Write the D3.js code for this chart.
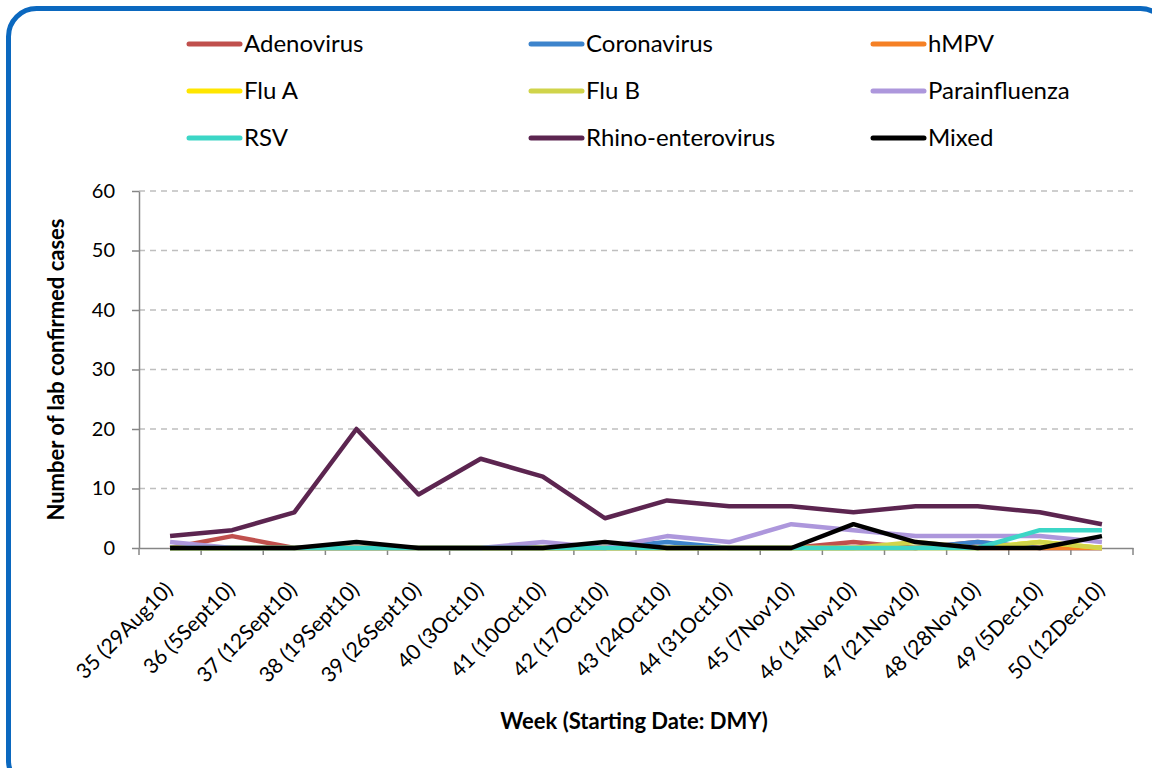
<!DOCTYPE html>
<html lang="en">
<head>
  <meta charset="UTF-8">
  <style>
    body { margin: 0; background: #fff; }
    text { font-family: Lato, "Open Sans", sans-serif; fill: #000; }
    .grid line { stroke: #bfbfbf; stroke-dasharray: 6,5; stroke-width: 1.3; }
    .axis path, .axis line { stroke: #868686; stroke-width: 1.5; }
    .series { fill: none; stroke-width: 4.5; stroke-linejoin: round; }
  </style>
  <title>Lab confirmed cases</title>
  <script src="https://d3js.org/d3.v7.min.js"></script>
</head>
<body>
<svg id="chart"></svg>
<script>

const weeks = ['35 (29Aug10)', '36 (5Sept10)', '37 (12Sept10)', '38 (19Sept10)', '39 (26Sept10)',
  '40 (3Oct10)', '41 (10Oct10)', '42 (17Oct10)', '43 (24Oct10)', '44 (31Oct10)', '45 (7Nov10)',
  '46 (14Nov10)', '47 (21Nov10)', '48 (28Nov10)', '49 (5Dec10)', '50 (12Dec10)'];

const adenovirus    = [0, 2, 0, 0, 0, 0, 0, 0, 0, 0, 0, 1, 0, 1, 0, 0];
const coronavirus   = [0, 0, 0, 0, 0, 0, 0, 0, 1, 0, 0, 0, 0, 1, 0, 0];
const hmpv          = [0, 0, 0, 0, 0, 0, 0, 0, 0, 0, 0, 0, 0, 0, 0, 0];
const fluA          = [0, 0, 0, 0, 0, 0, 0, 0, 0, 0, 0, 0, 0, 0, 1, 0];
const fluB          = [0, 0, 0, 0, 0, 0, 0, 0, 0, 0, 0, 0, 1, 0, 1, 0];
const parainfluenza = [1, 0, 0, 0, 0, 0, 1, 0, 2, 1, 4, 3, 2, 2, 2, 1];
const rsv           = [0, 0, 0, 0, 0, 0, 0, 0, 0, 0, 0, 0, 0, 0, 3, 3];
const rhino         = [2, 3, 6, 20, 9, 15, 12, 5, 8, 7, 7, 6, 7, 7, 6, 4];
const mixed         = [0, 0, 0, 1, 0, 0, 0, 1, 0, 0, 0, 4, 1, 0, 0, 2];

const yTicks = [0, 10, 20, 30, 40, 50, 60];

const series = [
  {name: 'Adenovirus', values: adenovirus, color: '#c0504d'},
  {name: 'Coronavirus', values: coronavirus, color: '#3d84cc'},
  {name: 'hMPV', values: hmpv, color: '#f58025'},
  {name: 'Flu A', values: fluA, color: '#ffe600'},
  {name: 'Flu B', values: fluB, color: '#d0d44a'},
  {name: 'Parainfluenza', values: parainfluenza, color: '#ad97dc'},
  {name: 'RSV', values: rsv, color: '#3cd6c6'},
  {name: 'Rhino-enterovirus', values: rhino, color: '#5c2550'},
  {name: 'Mixed', values: mixed, color: '#000000'}
];

const size = {width: 1152, height: 768};
const svg = d3.select('#chart')
  .attr('width', size.width)
  .attr('height', size.height);

// blue rounded frame
svg.append('rect')
  .attr('x', 8.5).attr('y', 8.5)
  .attr('width', 1160).attr('height', 780)
  .attr('rx', 28)
  .attr('fill', 'none')
  .attr('stroke', '#0b68bf')
  .attr('stroke-width', 5);

const plot = {left: 139, right: 1133, top: 191, bottom: 548};

const xScale = d3.scaleBand()
  .domain(weeks)
  .range([plot.left, plot.right]);
const yScale = d3.scaleLinear()
  .domain([0, 60])
  .range([plot.bottom, plot.top]);

// gridlines
svg.append('g')
  .attr('class', 'grid')
  .selectAll('line')
  .data(yTicks.filter(function(d) { return d > 0; }))
  .enter().append('line')
  .attr('x1', plot.left).attr('x2', plot.right)
  .attr('y1', function(d) { return yScale(d); })
  .attr('y2', function(d) { return yScale(d); });

// y axis
const yAxis = svg.append('g')
  .attr('class', 'axis')
  .attr('transform', 'translate(' + plot.left + ',0)')
  .call(d3.axisLeft(yScale).tickValues(yTicks).tickSize(7).tickPadding(17).tickSizeOuter(0));
yAxis.selectAll('text').style('font-size', '20px').style('font-family', 'Lato, sans-serif');

// x axis: labels at band centres, ticks at band edges
const xAxis = svg.append('g')
  .attr('class', 'axis')
  .attr('transform', 'translate(0,' + plot.bottom + ')')
  .call(d3.axisBottom(xScale).tickSize(0).tickSizeOuter(0));
xAxis.selectAll('.tick text')
  .style('font-size', '21px')
  .style('font-family', 'Lato, sans-serif')
  .attr('text-anchor', 'end')
  .attr('y', 0)
  .attr('dy', 0)
  .attr('transform', 'translate(4,43) rotate(-45)');

xAxis.selectAll('.edge')
  .data(d3.range(weeks.length + 1))
  .enter().append('line')
  .attr('class', 'edge')
  .attr('x1', function(i) { return plot.left + i * xScale.bandwidth(); })
  .attr('x2', function(i) { return plot.left + i * xScale.bandwidth(); })
  .attr('y1', 0)
  .attr('y2', 7);

// series lines
const line = d3.line()
  .x(function(d, i) { return xScale(weeks[i]) + xScale.bandwidth() / 2; })
  .y(function(d) { return yScale(d); });

svg.selectAll('.series')
  .data(series)
  .enter().append('path')
  .attr('class', 'series')
  .attr('stroke', function(d) { return d.color; })
  .attr('d', function(d) { return line(d.values); });

// axis titles
svg.append('text')
  .attr('transform', 'translate(64,' + ((plot.top + plot.bottom) / 2) + ') rotate(-90)')
  .attr('text-anchor', 'middle')
  .style('font-size', '22px')
  .style('font-weight', 'bold')
  .text('Number of lab confirmed cases');

svg.append('text')
  .attr('x', 634).attr('y', 729)
  .attr('text-anchor', 'middle')
  .style('font-size', '22px')
  .style('font-weight', 'bold')
  .text('Week (Starting Date: DMY)');

// legend
const legend = svg.selectAll('.legend')
  .data(series)
  .enter().append('g')
  .attr('class', 'legend')
  .attr('transform', function(d, i) {
    return 'translate(' + (189 + (i % 3) * 342) + ',' + (44 + Math.floor(i / 3) * 47) + ')';
  });
legend.append('line')
  .attr('x1', 0).attr('x2', 51)
  .attr('stroke', function(d) { return d.color; })
  .attr('stroke-width', 5)
  .attr('stroke-linecap', 'round');
legend.append('text')
  .attr('x', 55)
  .attr('dy', '0.35em')
  .style('font-size', '24px')
  .text(function(d) { return d.name; });

</script>
</body>
</html>
